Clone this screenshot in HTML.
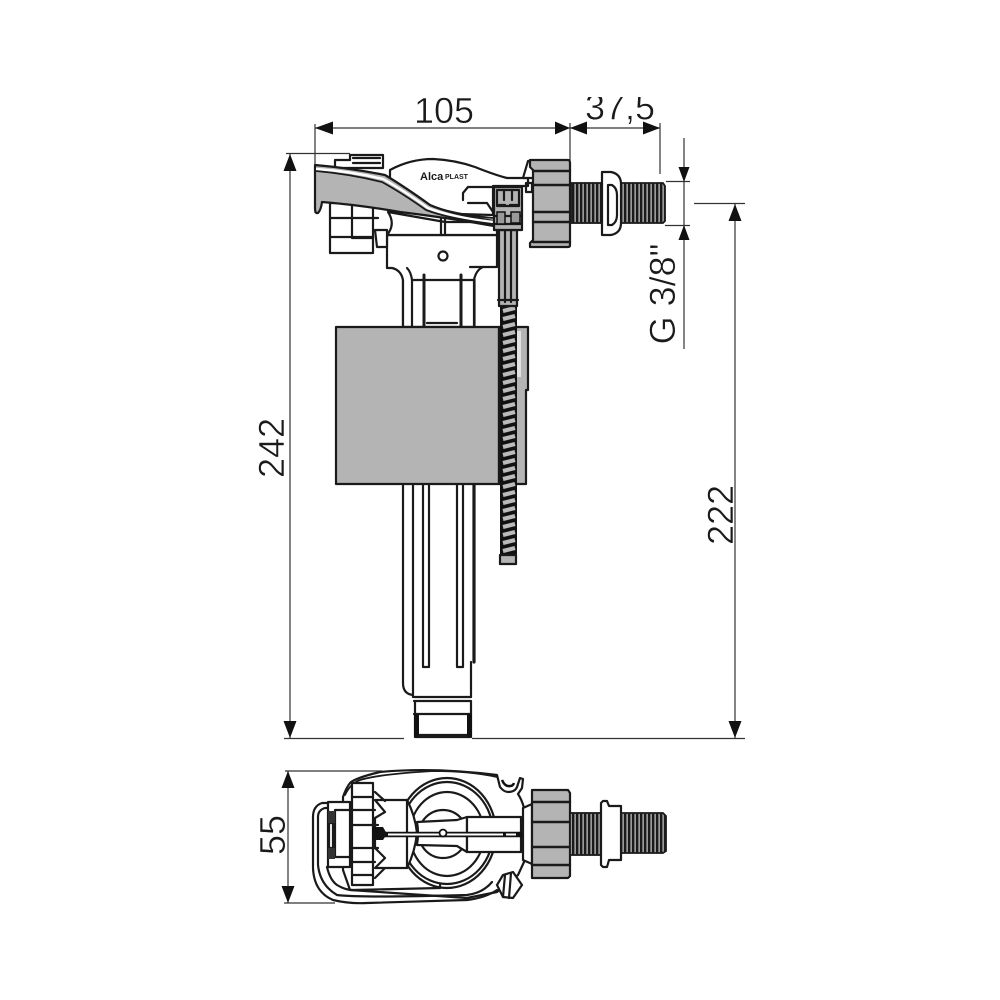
<!DOCTYPE html>
<html><head><meta charset="utf-8"><style>
html,body{margin:0;padding:0;background:#fff;width:1000px;height:1000px;overflow:hidden}
svg{display:block}
text{font-family:"Liberation Sans",sans-serif;font-size:36px;fill:#1a1a1a;stroke:#fff;stroke-width:.5px}
.s{fill:none;stroke:#1a1a1a;stroke-width:2.2;stroke-linejoin:round;stroke-linecap:round}
.w{fill:#fff;stroke:#1a1a1a;stroke-width:2.2;stroke-linejoin:round}
.g{fill:#b4b4b4;stroke:#1a1a1a;stroke-width:2.2;stroke-linejoin:round}
.d{fill:none;stroke:#333;stroke-width:1.2}
.a{fill:#111}
</style></head><body>
<svg width="1000" height="1000" viewBox="0 0 1000 1000" xmlns="http://www.w3.org/2000/svg">
<defs>
<pattern id="th" width="4" height="10" patternUnits="userSpaceOnUse"><rect width="4" height="10" fill="#999"/><rect width="2.300" height="10" fill="#1a1a1a"/></pattern>
<pattern id="sp" width="18" height="8" patternUnits="userSpaceOnUse" x="500" y="305"><rect width="18" height="8" fill="#111"/><path d="M3 6L15 3" stroke="#bbb" stroke-width="4"/></pattern>
</defs>
<rect width="1000" height="1000" fill="#fff"/>

<!-- Dimension text -->
<text x="444" y="123" text-anchor="middle">105</text>
<text x="620" y="119.500" text-anchor="middle">37,5</text>
<rect x="560" y="0" width="120" height="97" fill="#fff"/>
<text transform="translate(284 448) rotate(-90)" text-anchor="middle">242</text>
<text transform="translate(733 515) rotate(-90)" text-anchor="middle">222</text>
<text transform="translate(285 835) rotate(-90)" text-anchor="middle">55</text>
<text transform="translate(675 294) rotate(-90)" text-anchor="middle">G 3/8"</text>

<!-- Dimension lines -->
<path class="d" d="M315 124V213M570 123V160M660 123V174M315 128H660M290 154V738M735 204V738M684 138V349M288 771V903M286 153.500H350M284 738.500H404M472 738.500H745M694 203.500H745M666 181.500H690M665 225.500H690M285 771H382M284 903H335"/>
<path class="a" d="M315 128l18-6.500v13zM555 121.500l15 6.500-15 6.500zM570 128l17-6.500v13zM643 121.500l17 6.500-17 6.500zM283.500 171l6.500-17 6.500 17zM283.500 721l6.500 17 6.500-17zM728.500 221l6.500-17 6.500 17zM728.500 721l6.500 17 6.500-17zM678.500 167l5.500 15 5.500-15zM678.500 240l5.500-15 5.500 15zM281.500 788l6.500-17 6.500 17zM281.500 886l6.500 17 6.500-17z"/>

<!-- Main tube -->
<path class="s" d="M403 268V683Q403 694 413 695M413 268V697M471 662V697"/>
<path class="s" d="M474 280V327M474 484V662" style="stroke-width:3.200"/>
<path class="s" d="M423 484V667H429V484M457 484V667H463V484M414 697H471M414 701H471M414 714H471M415 701V737H471V701M417 735H469"/>
<path d="M414 714h5v23h-5zM467 714h5v23h-5z" fill="#111"/>

<!-- Upper body (neck) -->
<path class="w" d="M387 235H497V267H483Q476 270 474 280V327H403V280Q401 270 392 268H387Z"/>
<path class="s" d="M407 268Q411 272 412 280V327M412 280H474M483 267H470M427 323H457"/>
<path class="s" d="M424 275V327M461 275V327" style="stroke-width:3"/>
<circle class="s" cx="443" cy="256" r="4.500"/>

<!-- Float -->
<rect class="g" x="336" y="327" width="163" height="157"/>
<path class="g" d="M499 327H528V390H526V484H499Z"/>
<path d="M517 331H521V377H517Z" fill="#e2e2e2"/>
<!-- Spring -->
<rect x="500" y="305" width="17" height="255" fill="url(#sp)"/>
<rect class="g" x="500" y="555" width="16" height="9"/>
<rect class="g" x="499" y="230" width="18" height="76"/>
<path class="s" d="M505 230V302M511 230V302M498 300H518"/>

<!-- Top mechanism -->
<path class="w" d="M390 170Q410 159 433 159Q455 160 475 167Q495 175 507 178H528V186H493V215L390 212Z"/>
<path class="s" d="M468 187H493M468 187L463 193V200M468 203H487L493 212"/>
<text x="420" y="180" style="font-size:11px;font-weight:bold;stroke:none">Alca</text>
<text x="445" y="179" style="font-size:7px;font-weight:bold;stroke:none">PLAST</text>
<path class="w" d="M388 212Q396 224 387 235H497V222H445L388 212Z"/>
<path class="s" d="M441 218V235M445 218V235"/>
<!-- Left nut -->
<path class="w" d="M330 203H373V253H330Z"/>
<path class="s" d="M330 218H352M352 204V238M330 237H373M352 238H373M352 218H378"/>
<path class="w" d="M375 230H387V247H377Z"/>
<path class="w" d="M335 160H350V155H383V168H335Z"/>
<path class="s" d="M353 158H380M353 163H380"/>
<!-- Lever -->
<path class="g" d="M315 165Q350 168 385 175Q405 187 430 205Q450 214 494 221V226Q450 218 400 212Q360 205 322 202Q321 210 318 213Q315 214 315 208Z"/>
<path d="M315 165Q350 168 385 175Q405 187 430 205Q450 214 493 218" fill="none" stroke="#1a1a1a" stroke-width="1.800"/>
<path d="M316 169Q350 171 383 179Q403 190 428 208Q450 217 493 222" fill="none" stroke="#fff" stroke-width="2.400"/>
<path d="M316 171Q350 174 382 182Q402 193 426 210Q450 219 493 224" fill="none" stroke="#1a1a1a" stroke-width="1.800"/>
<!-- Valve box -->
<rect class="g" x="494" y="187" width="28" height="43"/>
<path class="g" d="M497 190H519V206H497Z"/>
<path class="s" d="M504 190V200M512 190V200M499 205H505M510 205H518M494 216H522M494 224H522"/>
<path d="M497 212h8v12h-8zM511 212h9v11h-9z" fill="#999" stroke="#111" stroke-width="1.500"/>

<!-- Nut side view -->
<path class="w" d="M523 178L528 161H534V178Z"/>
<path class="s" d="M526 183H532V192H526Z"/>
<path class="g" d="M530 160H568Q570 160 570 163V245Q570 247 568 247H530V243L533 240V170L530 167Z"/>
<path class="s" d="M533 171H570M533 185H570M533 212H570M533 222H570M533 242H570" style="stroke-width:2.400"/>
<!-- Threads -->
<rect x="571" y="183" width="31" height="40" fill="url(#th)" stroke="#1a1a1a" stroke-width="1.800"/>
<path d="M621 183H663L665 186V221L663 223H621Z" fill="url(#th)" stroke="#1a1a1a" stroke-width="1.800"/>
<path class="w" d="M602 172H611Q621 174 621 184V223Q621 233 611 235H602Z"/>
<path class="w" d="M608 185H612Q617 188 617 195V215Q617 222 612 225H608Z"/>

<!-- Bottom view -->
<path class="w" d="M343 797Q346 788 350 783Q355 778 380 772Q433 767 497 775L500 787Q504 792 508 792Q515 792 517 787L520 778L523 779L522 788L518 794Q522 800 524 808V862L518 875L497 892L467 898L350 890L343 870Z"/>
<path class="s" d="M345 795Q350 784 360 780Q380 774 433 771Q470 771 497 777" style="stroke-width:1.800"/>
<path d="M502 780Q505 787 510 786Q513 786 514 783" fill="none" stroke="#111" stroke-width="2.500"/>
<ellipse class="s" cx="447" cy="833" rx="49" ry="55"/>
<ellipse class="s" cx="447" cy="833" rx="46" ry="51"/>
<ellipse class="s" cx="447" cy="834" rx="37" ry="42"/>
<ellipse class="s" cx="443" cy="834" rx="24" ry="24"/>
<path class="s" d="M440 888V885"/>
<path class="w" d="M375 800H407Q415 815 417 833Q415 852 407 868H375L385 858L375 848V818L385 812Z"/>
<path class="s" d="M407 800V868M375 792L385 801M375 878L385 868"/>
<path class="w" d="M417 822L457 820L467 817V852L457 846L417 845Q419 833 417 822Z"/>
<path class="w" d="M467 817H521V852H467Z"/>
<path d="M385 834.500H527" stroke="#111" stroke-width="5.500"/>
<path d="M388 834.500H503M506 834.500H516" stroke="#fff" stroke-width="2"/>
<circle cx="443" cy="833" r="3.500" fill="#fff" stroke="#111" stroke-width="1.800"/>
<!-- Loop handle -->
<path class="s" d="M328 803H322Q313 806 313 817V868Q314 892 333 900Q350 904 367 903L467 900Q485 898 497 890M328 808H325Q318 810 318 817V865Q320 885 337 895Q360 898 467 895Q483 893 492 882M327 867Q330 880 337 885Q345 890 353 890L440 888"/>
<!-- Slider / bracket -->
<path class="w" d="M328 802H350V867H328Z"/>
<path class="s" d="M335 810H352V857H335ZM335 810V857"/>
<path class="w" d="M329 823H333V848H329Z"/>
<path d="M328 811h7v12h-7zM328 848h7v11h-7z" fill="#333"/>
<!-- Gear -->
<path class="w" d="M352 783H373V885H352Z"/>
<path class="s" d="M352 797H373M352 810H375M352 825H378M352 848H378M352 862H375M352 875H373"/>
<path d="M372 827H383L387 834L383 840H372Z" fill="#111"/>
<!-- Knob -->
<path class="w" d="M497 885L503 875L513 872L522 885L513 898L503 897Z"/>
<path class="s" d="M505 875L503 897M511 873L509 898"/>
<!-- Collar -->
<path class="w" d="M523 808L532 804V864L523 860Z"/>
<!-- Nut -->
<path class="g" d="M532 790H568L570 793V876L568 878H532Z"/>
<path class="s" d="M532 802H570M532 822H570M532 847H570M532 865H570" style="stroke-width:2.400"/>
<!-- Threads bottom -->
<rect x="570" y="813" width="31" height="42" fill="url(#th)" stroke="#1a1a1a" stroke-width="1.800"/>
<path d="M621 813H663L666 816V851L663 853H621Z" fill="url(#th)" stroke="#1a1a1a" stroke-width="1.800"/>
<path class="w" d="M601 803L603 801H607L609 806H621V860H609L607 867H603L601 865Z"/>
</svg>
</body></html>
